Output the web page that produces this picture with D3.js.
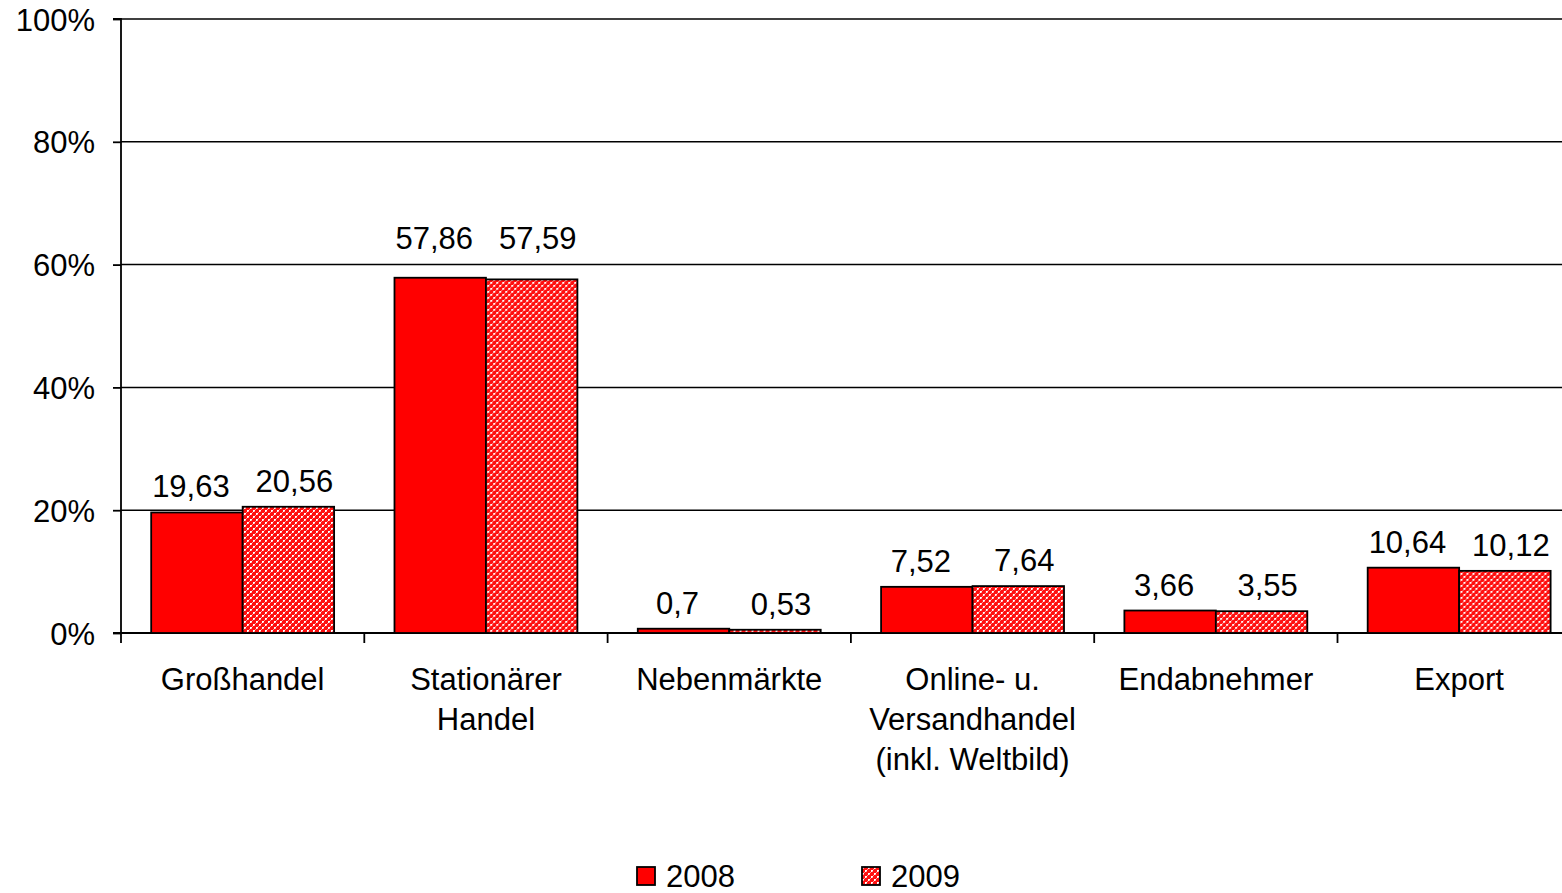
<!DOCTYPE html>
<html><head><meta charset="utf-8">
<script src="https://cdn.jsdelivr.net/npm/d3@7"></script>
<style>body{margin:0;background:#fff;overflow:hidden}text{font-family:"Liberation Sans",Arial,sans-serif;fill:#000}</style>
</head><body><svg id="c" width="1562" height="893"></svg>
<script>
const categories = ["Großhandel", "Stationärer\nHandel", "Nebenmärkte", "Online- u.\nVersandhandel\n(inkl. Weltbild)", "Endabnehmer", "Export"];
const series2008 = [19.63, 57.86, 0.7, 7.52, 3.66, 10.64];
const series2009 = [20.56, 57.59, 0.53, 7.64, 3.55, 10.12];
const labels2008 = ["19,63", "57,86", "0,7", "7,52", "3,66", "10,64"];
const labels2009 = ["20,56", "57,59", "0,53", "7,64", "3,55", "10,12"];
const seriesNames = ["2008", "2009"];
const yTicks = [0, 20, 40, 60, 80, 100];

(function(){
const svg = d3.select("#c");
const defs = svg.append("defs");
const pat = defs.append("pattern").attr("id","dots").attr("patternUnits","userSpaceOnUse").attr("width",6).attr("height",6);
pat.append("rect").attr("width",6).attr("height",6).attr("fill","#ff1010");
[[0,0,"#fff"],[1,0,"#fff"],[0,1,"#fff"],[1,1,"#ffa0a0"],[3,3,"#fff"],[4,3,"#fff"],[3,4,"#fff"],[4,4,"#ffa0a0"],[2,5,"#ff9090"],[5,2,"#ff9090"]]
  .forEach(([px,py,c])=>pat.append("rect").attr("x",px).attr("y",py).attr("width",1).attr("height",1).attr("fill",c));

const left = 121, plotTop = 19, bottom = 633;
const bandW = 243.3;
const x = d3.scaleBand().domain(d3.range(categories.length)).range([left, left + bandW*categories.length]).paddingInner(0).paddingOuter(0);
const y = d3.scaleLinear().domain([0,100]).range([bottom, plotTop]);
const inner = d3.scaleBand().domain([0,1]).range([0, x.bandwidth()]).paddingOuter(0.33).paddingInner(0);

svg.append("g").selectAll("line").data(yTicks.filter(d=>d>0)).join("line")
  .attr("x1", left).attr("x2", 1562).attr("y1", d=>y(d)).attr("y2", d=>y(d))
  .attr("stroke","#000").attr("stroke-width",1.5);

const yAxis = d3.axisLeft(y).tickValues(yTicks).tickFormat(d=>d+"%").tickSize(8).tickPadding(18);
const gy = svg.append("g").attr("transform",`translate(${left},0)`).call(yAxis);
gy.select(".domain").attr("stroke","#000").attr("stroke-width",1.8).attr("d",`M-8,${plotTop}H0V${bottom}`);
gy.selectAll(".tick line").attr("stroke","#000").attr("stroke-width",1.8);
gy.selectAll(".tick text").attr("font-size",31).attr("font-family","Liberation Sans, Arial, sans-serif").attr("fill","#000").attr("dy","0.36em");

svg.append("line").attr("x1",left-8).attr("x2",1562).attr("y1",bottom).attr("y2",bottom).attr("stroke","#000").attr("stroke-width",1.8);
svg.append("g").selectAll("line").data(d3.range(categories.length+1)).join("line")
  .attr("x1",d=>left+d*x.step()).attr("x2",d=>left+d*x.step()).attr("y1",bottom).attr("y2",bottom+10)
  .attr("stroke","#000").attr("stroke-width",1.8);

const data = categories.map((c,i)=>({i, vals:[series2008[i], series2009[i]], labs:[labels2008[i], labels2009[i]]}));
const groups = svg.append("g").selectAll("g").data(data).join("g").attr("transform",d=>`translate(${x(d.i)},0)`);
groups.selectAll("rect").data(d=>d.vals.map((v,k)=>({v,k}))).join("rect")
  .attr("x",d=>inner(d.k)).attr("width",inner.bandwidth())
  .attr("y",d=>y(d.v)).attr("height",d=>y(0)-y(d.v))
  .attr("fill",d=>d.k===0?"#ff0000":"url(#dots)")
  .attr("stroke","#000").attr("stroke-width",1.8);
// label baseline: 14px above bar, but lift above a gridline if it would touch it
const gridYs = yTicks.filter(d=>d>0).map(d=>y(d));
function labelY(v){
  let b = y(v) - 14;
  gridYs.forEach(g=>{ if (g > b - 24 && g < b + 6) b = g - 15; });
  return b;
}
groups.selectAll("text.lab").data(d=>d.vals.map((v,k)=>({v,k,l:d.labs[k]}))).join("text").attr("class","lab")
  .attr("x",d=>inner(d.k)+inner.bandwidth()/2 + (d.k===0?-6:6)).attr("y",d=>labelY(d.v)-1)
  .attr("text-anchor","middle").attr("font-size",31).text(d=>d.l);

svg.append("g").selectAll("text").data(categories).join("text")
  .attr("x",(d,i)=>x(i)+x.bandwidth()/2).attr("y",690).attr("text-anchor","middle").attr("font-size",31)
  .each(function(d){ const t=d3.select(this); d.split("\n").forEach((s,j)=>t.append("tspan").attr("x",t.attr("x")).attr("dy",j?40:0).text(s)); });

const legX = [637, 862];
const lg = svg.append("g").selectAll("g").data(seriesNames).join("g").attr("transform",(d,i)=>`translate(${legX[i]},867)`);
lg.append("rect").attr("width",18).attr("height",18).attr("fill",(d,i)=>i===0?"#ff0000":"url(#dots)").attr("stroke","#000").attr("stroke-width",1.8);
lg.append("text").attr("x",29).attr("y",20).attr("font-size",31).text(d=>d);
})();
</script></body></html>
